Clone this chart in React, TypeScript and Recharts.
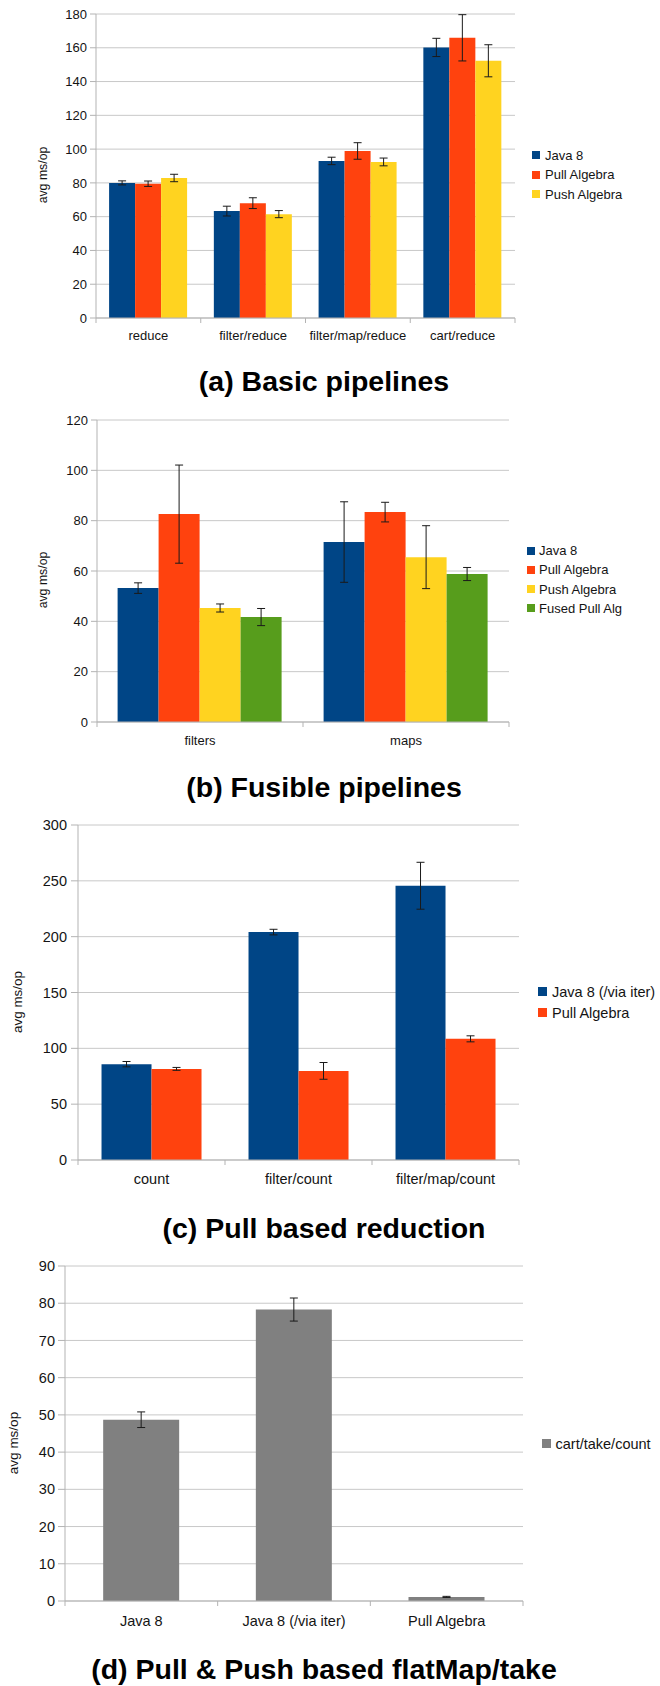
import React from 'react';
import { BarChart, Bar, XAxis, YAxis, CartesianGrid, ErrorBar, Legend } from 'recharts';

const FONT = '"Liberation Sans", Arial, sans-serif';
const INK = '#141414';
const GRID = '#c8c8c8';
const FRAME = '#b3b3b3';
const ERR = '#1a1a1a';

const JAVA = '#004586';
const PULL = '#ff420e';
const PUSH = '#ffd320';
const FUSED = '#579d1c';
const GREY = '#808080';

// (a) Basic pipelines
const basicOps = ['reduce', 'filter/reduce', 'filter/map/reduce', 'cart/reduce'];
const basicJava = [80.0, 63.3, 93.0, 160.2];
const basicJavaErr = [1.2, 2.9, 2.2, 5.4];
const basicPull = [79.5, 68.0, 98.9, 165.9];
const basicPullErr = [1.6, 3.2, 4.9, 13.7];
const basicPush = [82.9, 61.5, 92.4, 152.3];
const basicPushErr = [2.2, 2.1, 2.3, 9.5];
const basicTicks = [0, 20, 40, 60, 80, 100, 120, 140, 160, 180];

// (b) Fusible pipelines
const fusibleOps = ['filters', 'maps'];
const fusibleJava = [53.2, 71.5];
const fusibleJavaErr = [2.1, 16.0];
const fusiblePull = [82.6, 83.4];
const fusiblePullErr = [19.5, 3.9];
const fusiblePush = [45.3, 65.5];
const fusiblePushErr = [1.6, 12.5];
const fusibleFused = [41.7, 58.8];
const fusibleFusedErr = [3.4, 2.6];
const fusibleTicks = [0, 20, 40, 60, 80, 100, 120];

// (c) Pull based reduction
const reductionOps = ['count', 'filter/count', 'filter/map/count'];
const reductionJavaIter = [85.8, 204.1, 245.6];
const reductionJavaIterErr = [2.4, 2.5, 21.0];
const reductionPull = [81.6, 79.8, 108.5];
const reductionPullErr = [1.3, 7.5, 2.7];
const reductionTicks = [0, 50, 100, 150, 200, 250, 300];

// (d) Pull & Push based flatMap/take
const flatMapOps = ['Java 8', 'Java 8 (/via iter)', 'Pull Algebra'];
const flatMapCartTake = [48.7, 78.3, 1.1];
const flatMapCartTakeErr = [2.1, 3.1, 0.15];
const flatMapTicks = [0, 10, 20, 30, 40, 50, 60, 70, 80, 90];

type Series = { name: string; color: string; values: number[]; errors: number[] };

type PanelProps = {
  top: number;
  height: number;
  padTop: number;
  axisW: number;
  padRight: number;
  axisH: number;
  ops: string[];
  series: Series[];
  ticks: number[];
  gap: string;
  size: number;
  tickLen: number;
  tickGap: number;
  labelDy: number;
  legendLeft: number;
  legendTop: number;
  rowH: number;
  swatch: number;
  swatchGap: number;
};

const W = 660;

// category labels sit in the middle of a band, tick marks sit on band edges
const CategoryTick = (props: any) => {
  const { x, y, payload, index, count, halfBand, size, labelDy } = props;
  return (
    <g>
      <line x1={x - halfBand} y1={y} x2={x - halfBand} y2={y + 5} stroke={FRAME} />
      {index === count - 1 && (
        <line x1={x + halfBand} y1={y} x2={x + halfBand} y2={y + 5} stroke={FRAME} />
      )}
      <text
        x={x}
        y={y + labelDy}
        textAnchor="middle"
        dominantBaseline="central"
        fontSize={size}
        fontFamily={FONT}
        fill={INK}
      >
        {payload.value}
      </text>
    </g>
  );
};

// keep legend rows in series order (recharts sorts them by name otherwise)
const LegendBox = ({ payload, order, rowH, swatch, swatchGap, size }: any) => {
  const items = [...(payload || [])].sort(
    (a: any, b: any) => order.indexOf(a.value) - order.indexOf(b.value)
  );
  return (
    <div style={{ fontFamily: FONT, fontSize: size, color: INK }}>
      {items.map((p: any) => (
        <div key={p.value} style={{ height: rowH, display: 'flex', alignItems: 'center', whiteSpace: 'nowrap' }}>
          <span style={{ display: 'inline-block', width: swatch, height: swatch, background: p.color, marginRight: swatchGap }} />
          <span>{p.value}</span>
        </div>
      ))}
    </div>
  );
};

const Panel = (p: PanelProps) => {
  const rows = p.ops.map((op, i) => {
    const row: Record<string, string | number> = { op };
    p.series.forEach((s, k) => {
      row[`v${k}`] = s.values[i];
      row[`e${k}`] = s.errors[i];
    });
    return row;
  });
  const halfBand = (W - p.axisW - p.padRight) / p.ops.length / 2;
  const max = p.ticks[p.ticks.length - 1];
  const order = p.series.map((s) => s.name);

  return (
    <div style={{ position: 'absolute', left: 0, top: p.top }}>
      <BarChart
        width={W}
        height={p.height}
        data={rows}
        margin={{ top: p.padTop, right: p.padRight, bottom: 0, left: 0 }}
        barCategoryGap={p.gap}
        barGap={0}
        style={{ fontFamily: FONT }}
      >
        <CartesianGrid vertical={false} stroke={GRID} />
        <XAxis
          dataKey="op"
          interval={0}
          height={p.axisH}
          tickLine={false}
          tickSize={0}
          tickMargin={0}
          axisLine={{ stroke: FRAME }}
          tick={<CategoryTick count={p.ops.length} halfBand={halfBand} size={p.size} labelDy={p.labelDy} />}
        />
        <YAxis
          domain={[0, max]}
          ticks={p.ticks}
          interval={0}
          width={p.axisW}
          tickSize={p.tickLen}
          tickMargin={p.tickGap}
          stroke={FRAME}
          tick={{ fill: INK, fontSize: p.size, fontFamily: FONT }}
        />
        <YAxis
          yAxisId="frame"
          orientation="right"
          width={0}
          domain={[0, 1]}
          tick={false}
          tickLine={false}
          axisLine={{ stroke: FRAME }}
        />
        {p.series.map((s, k) => (
          <Bar key={s.name} dataKey={`v${k}`} name={s.name} fill={s.color} isAnimationActive={false}>
            <ErrorBar dataKey={`e${k}`} direction="y" width={4} stroke={ERR} strokeWidth={1} isAnimationActive={false} />
          </Bar>
        ))}
        <Legend
          layout="vertical"
          align="center"
          verticalAlign="middle"
          wrapperStyle={{ left: p.legendLeft, top: p.legendTop, right: 'auto', bottom: 'auto', width: 'auto' }}
          content={(lp: any) => (
            <LegendBox {...lp} order={order} rowH={p.rowH} swatch={p.swatch} swatchGap={p.swatchGap} size={p.size} />
          )}
        />
      </BarChart>
    </div>
  );
};

const Title = ({ text, baseline }: { text: string; baseline: number }) => (
  <div
    style={{
      position: 'absolute',
      left: 0,
      width: 648,
      top: baseline - 24.1,
      textAlign: 'center',
      fontFamily: FONT,
      fontWeight: 'bold',
      fontSize: 28.5,
      lineHeight: '28.5px',
      color: '#000',
      whiteSpace: 'nowrap',
    }}
  >
    {text}
  </div>
);

const AxisTitle = ({ cx, cy, size }: { cx: number; cy: number; size: number }) => (
  <div
    style={{
      position: 'absolute',
      left: cx,
      top: cy,
      transform: 'translate(-50%, -50%) rotate(-90deg)',
      fontFamily: FONT,
      fontSize: size,
      lineHeight: 1,
      whiteSpace: 'nowrap',
      color: INK,
    }}
  >
    avg ms/op
  </div>
);

export default function App() {
  return (
    <div style={{ position: 'absolute', left: 0, top: 0, width: 660, height: 1686, background: '#fff', overflow: 'hidden' }}>
      <Panel
        top={0}
        height={345}
        padTop={14}
        axisW={96}
        padRight={145}
        axisH={27}
        ops={basicOps}
        series={[
          { name: 'Java 8', color: JAVA, values: basicJava, errors: basicJavaErr },
          { name: 'Pull Algebra', color: PULL, values: basicPull, errors: basicPullErr },
          { name: 'Push Algebra', color: PUSH, values: basicPush, errors: basicPushErr },
        ]}
        ticks={basicTicks}
        gap="12.5%"
        size={13}
        tickLen={6}
        tickGap={3}
        labelDy={17}
        legendLeft={532}
        legendTop={145.25}
        rowH={19.5}
        swatch={8}
        swatchGap={5}
      />
      <AxisTitle cx={43} cy={175} size={12.3} />
      <Title text="(a) Basic pipelines" baseline={390.7} />

      <Panel
        top={400}
        height={350}
        padTop={20}
        axisW={97}
        padRight={151}
        axisH={28}
        ops={fusibleOps}
        series={[
          { name: 'Java 8', color: JAVA, values: fusibleJava, errors: fusibleJavaErr },
          { name: 'Pull Algebra', color: PULL, values: fusiblePull, errors: fusiblePullErr },
          { name: 'Push Algebra', color: PUSH, values: fusiblePush, errors: fusiblePushErr },
          { name: 'Fused Pull Alg', color: FUSED, values: fusibleFused, errors: fusibleFusedErr },
        ]}
        ticks={fusibleTicks}
        gap="10%"
        size={13}
        tickLen={6}
        tickGap={3}
        labelDy={18}
        legendLeft={527}
        legendTop={141.1}
        rowH={19.2}
        swatch={8}
        swatchGap={4}
      />
      <AxisTitle cx={43} cy={580} size={12.3} />
      <Title text="(b) Fusible pipelines" baseline={796.7} />

      <Panel
        top={810}
        height={380}
        padTop={15}
        axisW={78}
        padRight={141}
        axisH={30}
        ops={reductionOps}
        series={[
          { name: 'Java 8 (/via iter)', color: JAVA, values: reductionJavaIter, errors: reductionJavaIterErr },
          { name: 'Pull Algebra', color: PULL, values: reductionPull, errors: reductionPullErr },
        ]}
        ticks={reductionTicks}
        gap="16%"
        size={14.5}
        tickLen={7}
        tickGap={4}
        labelDy={19}
        legendLeft={538}
        legendTop={171.2}
        rowH={21}
        swatch={9}
        swatchGap={5}
      />
      <AxisTitle cx={18.3} cy={1002} size={13.4} />
      <Title text="(c) Pull based reduction" baseline={1238} />

      <Panel
        top={1250}
        height={385}
        padTop={16}
        axisW={65}
        padRight={137}
        axisH={34}
        ops={flatMapOps}
        series={[{ name: 'cart/take/count', color: GREY, values: flatMapCartTake, errors: flatMapCartTakeErr }]}
        ticks={flatMapTicks}
        gap="25%"
        size={14.5}
        tickLen={7}
        tickGap={3}
        labelDy={20}
        legendLeft={542}
        legendTop={183.2}
        rowH={21}
        swatch={8.5}
        swatchGap={5}
      />
      <AxisTitle cx={14} cy={1443} size={13.5} />
      <Title text="(d) Pull & Push based flatMap/take" baseline={1679} />
    </div>
  );
}
